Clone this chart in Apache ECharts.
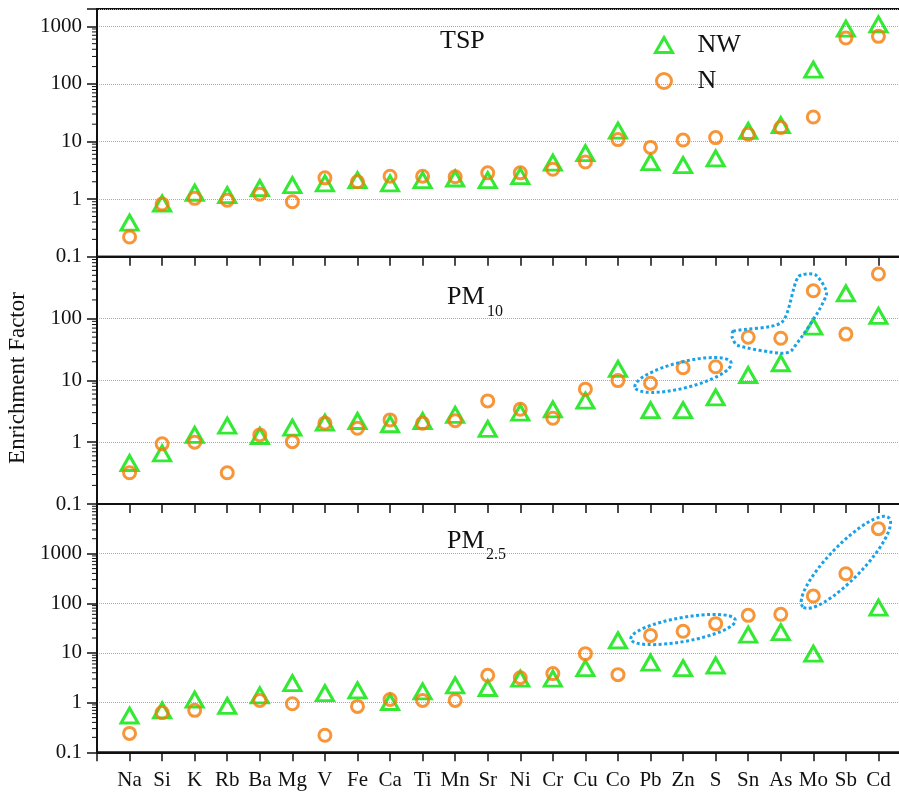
<!DOCTYPE html>
<html>
<head>
<meta charset="utf-8">
<title>Enrichment Factor</title>
<script src="https://cdn.jsdelivr.net/npm/echarts@6/dist/echarts.min.js"></script>
<style>
  html, body {margin: 0; padding: 0; background: #fff;}
  #main {width: 899px; height: 795px;}
</style>
</head>
<body>
<div id="main"></div>
<script>
var elements = ['Na','Si','K','Rb','Ba','Mg','V','Fe','Ca','Ti','Mn','Sr','Ni','Cr','Cu','Co','Pb','Zn','S','Sn','As','Mo','Sb','Cd'];

// TSP
var tspNW = [0.39, 0.84, 1.29, 1.17, 1.55, 1.75, 1.87, 2.13, 1.87, 2.13, 2.28, 2.13, 2.5, 4.3, 6.3, 15.5, 4.4, 3.9, 5.1, 15.3, 19.2, 177, 910, 1080];
var tspN  = [0.22, 0.82, 1.03, 0.96, 1.22, 0.9, 2.34, 2.0, 2.5, 2.5, 2.44, 2.86, 2.86, 3.3, 4.4, 10.8, 7.9, 10.6, 11.7, 13.4, 17.5, 26.7, 627, 670];
// PM10
var pm10NW = [0.46, 0.66, 1.31, 1.85, 1.26, 1.72, 2.07, 2.2, 1.95, 2.2, 2.76, 1.64, 3.0, 3.4, 4.7, 15.3, 3.3, 3.3, 5.3, 12.2, 18.9, 74, 255, 110];
var pm10N  = [0.32, 0.94, 1.0, 0.32, 1.31, 1.02, 2.03, 1.68, 2.29, 2.03, 2.23, 4.65, 3.4, 2.44, 7.2, 9.9, 9.0, 16, 16.6, 49.7, 47.9, 281, 56, 524];
// PM2.5
var pm25NW = [0.55, 0.70, 1.15, 0.86, 1.4, 2.48, 1.56, 1.77, 1.03, 1.69, 2.23, 1.97, 3.04, 3.04, 4.97, 18, 6.4, 4.97, 5.6, 23.4, 26.4, 9.7, null, 82];
var pm25N  = [0.24, 0.63, 0.70, null, 1.11, 0.95, 0.22, 0.84, 1.16, 1.11, 1.11, 3.55, 3.18, 3.84, 9.7, 3.66, 22.6, 27.3, 39, 57.3, 60, 140, 395, 3186];

var yMax = [2000, 1000, 10000];     // top of each panel
var labelMax = [1000, 100, 1000];   // highest labelled tick

var FONT = '"Liberation Serif", "DejaVu Serif", serif';
var GREEN = '#00e400', ORANGE = '#f57a08', BLUE = '#1aa2e8', INK = '#111';

var grids = [
  {left: 97, right: -12, top: 9, height: 247.7},
  {left: 97, right: -12, top: 256.7, height: 247.3},
  {left: 97, right: -12, top: 504, height: 248.3}
];

function pairs(arr) {
  var out = [];
  arr.forEach(function (v, i) { if (v != null) out.push([i, v]); });
  return out;
}

function isDecade(v) {
  var l = Math.log10(v);
  return Math.abs(l - Math.round(l)) < 1e-6;
}

var option = {
  animation: false,
  backgroundColor: '#fff',
  grid: grids.map(function (g) {
    return Object.assign({show: true, borderColor: INK, borderWidth: 2, backgroundColor: 'transparent',
      containLabel: false, outerBoundsMode: 'none'}, g);
  }),
  legend: {
    orient: 'vertical', left: 649, top: 27,
    itemWidth: 17, itemHeight: 15, itemGap: 10,
    selectedMode: false,
    data: [
      {name: 'NW', icon: 'triangle', itemStyle: {color: 'rgba(0,0,0,0)', borderColor: GREEN, borderWidth: 3}},
      {name: 'N', icon: 'circle', itemStyle: {color: 'rgba(0,0,0,0)', borderColor: ORANGE, borderWidth: 3}}
    ],
    textStyle: {fontFamily: FONT, fontSize: 26, color: INK, padding: [0, 0, 0, 20], lineHeight: 26}
  },
  xAxis: [0, 1, 2].map(function (g) {
    return {
      type: 'value', gridIndex: g, min: -1, max: 24, interval: 1,
      axisLine: {onZero: false, lineStyle: {color: INK, width: 2}},
      axisTick: {length: 9, lineStyle: {color: INK, width: 1.5}},
      splitLine: {show: false},
      axisLabel: {
        show: g === 2, margin: 18, color: INK, fontFamily: FONT, fontSize: 21,
        formatter: function (v) { return elements[v] || ''; }
      }
    };
  }),
  yAxis: [0, 1, 2].map(function (g) {
    return {
      type: 'log', logBase: 10, gridIndex: g, min: 0.1, max: yMax[g],
      axisLine: {onZero: false, lineStyle: {color: INK, width: 2}},
      axisTick: {length: 10, lineStyle: {color: INK, width: 1.5}},
      splitLine: {show: true, lineStyle: {color: '#aaa', type: 'dotted', width: 1}},
      axisLabel: {
        margin: 15, color: INK, fontFamily: FONT, fontSize: 21,
        formatter: function (v) {
          if (!isDecade(v) || v > labelMax[g] * 1.001) return '';
          return String(+v.toPrecision(6));
        }
      }
    };
  }),
  series: []
};

[[tspNW, tspN], [pm10NW, pm10N], [pm25NW, pm25N]].forEach(function (pair, g) {
  option.series.push({
    type: 'scatter', name: 'NW', xAxisIndex: g, yAxisIndex: g,
    symbol: 'triangle', symbolSize: [17, 15], z: 2,
    itemStyle: {color: 'rgba(0,0,0,0)', borderColor: GREEN, borderWidth: 3},
    data: pairs(pair[0])
  });
  option.series.push({
    type: 'scatter', name: 'N', xAxisIndex: g, yAxisIndex: g,
    symbol: 'circle', symbolSize: 12, z: 3,
    itemStyle: {color: 'rgba(0,0,0,0)', borderColor: ORANGE, borderWidth: 3},
    data: pairs(pair[1])
  });
});

var chart = echarts.init(document.getElementById('main'));
chart.setOption(option);

// panel titles, axis name, minor ticks and the dotted annotations
var gfx = [];
function txt(s, x, y, size) {
  gfx.push({type: 'text', x: x, y: y, z: 60,
    style: {text: s, fill: INK, fontFamily: FONT, fontSize: size, align: 'left', verticalAlign: 'middle'}});
}
txt('TSP', 440, 41, 26);
txt('PM', 447, 297, 26);
txt('10', 487, 312, 16);
txt('PM', 447, 541, 26);
txt('2.5', 486, 555, 16);
gfx.push({type: 'text', x: 18, y: 378, rotation: Math.PI / 2, z: 60,
  style: {text: 'Enrichment Factor', fill: INK, fontFamily: FONT, fontSize: 23, align: 'center', verticalAlign: 'middle'}});

[0, 1, 2].forEach(function (g) {
  var x0 = chart.convertToPixel({xAxisIndex: g}, -1);
  for (var d = -1; d <= 4; d++) {
    for (var k = 2; k <= 9; k++) {
      var v = k * Math.pow(10, d);
      if (v >= yMax[g]) continue;
      var y = chart.convertToPixel({yAxisIndex: g}, v);
      gfx.push({type: 'line', z: 60, shape: {x1: x0 - 5, y1: y, x2: x0, y2: y},
        style: {stroke: INK, lineWidth: 1}});
    }
  }
});

var dots = {fill: 'none', stroke: BLUE, lineWidth: 3, lineDash: [3, 2.5]};
function pos(g, arr, el) {
  var i = elements.indexOf(el);
  return chart.convertToPixel({gridIndex: g}, [i, arr[i]]);
}
function ellipseAround(p1, p2, pad, ry) {
  var dx = p2[0] - p1[0], dy = p2[1] - p1[1];
  gfx.push({type: 'ellipse', z: 50,
    x: (p1[0] + p2[0]) / 2, y: (p1[1] + p2[1]) / 2,
    rotation: Math.atan2(-dy, dx),
    shape: {cx: 0, cy: 0, rx: Math.sqrt(dx * dx + dy * dy) / 2 + pad, ry: ry},
    style: dots});
}
ellipseAround(pos(1, pm10N, 'Pb'), pos(1, pm10N, 'S'), 16, 13);
ellipseAround(pos(2, pm25N, 'Pb'), pos(2, pm25N, 'S'), 20, 12);
ellipseAround(pos(2, pm25N, 'Mo'), pos(2, pm25N, 'Cd'), 15, 17);

var sn = pos(1, pm10N, 'Sn'), as = pos(1, pm10N, 'As'), mo = pos(1, pm10N, 'Mo');
function off(p, dx, dy) { return [p[0] + dx, p[1] + dy]; }
gfx.push({type: 'polygon', z: 50,
  shape: {smooth: 0.25, points: [
    off(sn, -15, -6), off(as, 1, -16), off(mo, -15, -14), off(mo, 2, -16), off(mo, 13, 4),
    off(as, 11, 12), off(as, 0, 15), off(sn, -11, 8), off(sn, -16, 0)
  ]},
  style: dots});

chart.setOption({graphic: gfx});
window.onresize = chart.resize;
</script>
</body>
</html>
